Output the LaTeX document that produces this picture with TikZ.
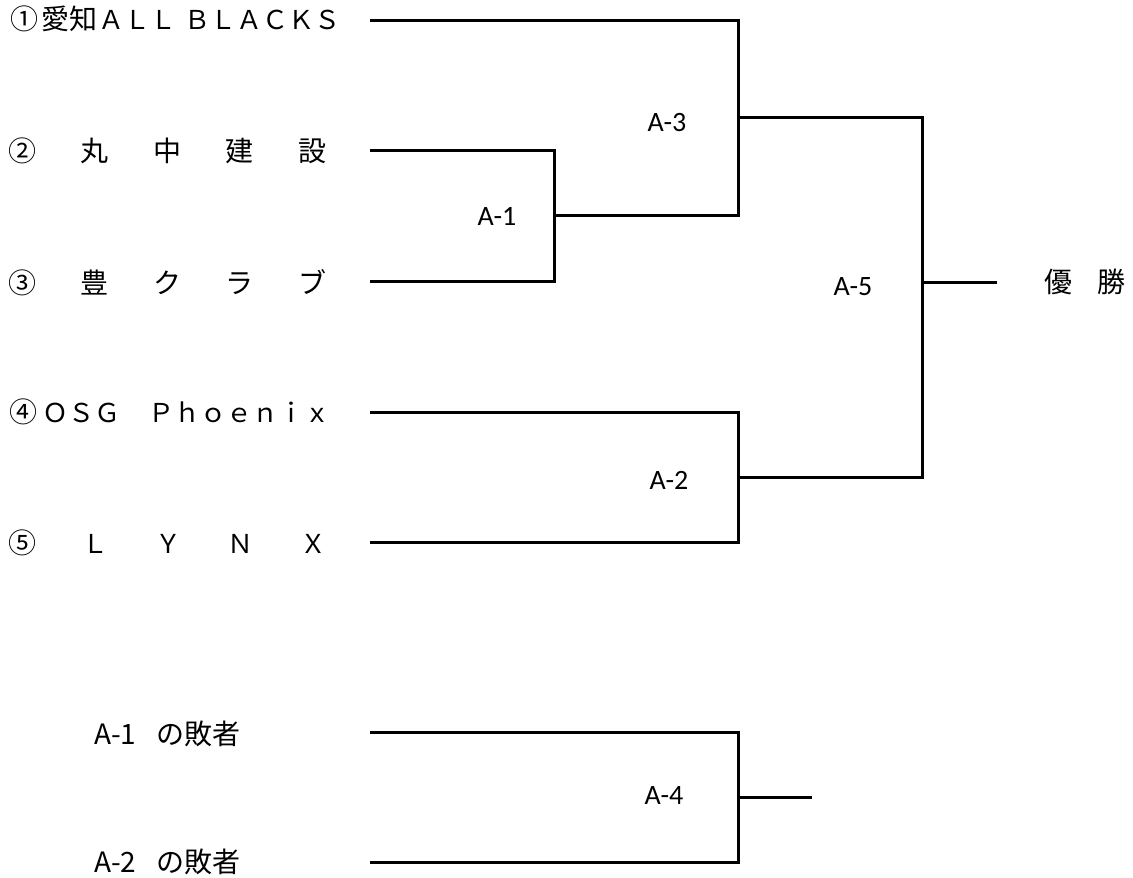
\documentclass[tikz,border=0pt]{standalone}
\usepackage{fontspec}
\setmainfont{Noto Sans CJK JP}
\newfontfamily\gamefont{Carlito}
\newcommand\latn[1]{{\fontsize{26}{30}\selectfont #1}}
\begin{document}
\begin{tikzpicture}[x=1pt,y=-1pt,
    team/.style={anchor=west,inner sep=0pt,font=\fontsize{28}{32}\selectfont},
    game/.style={inner sep=0pt,font=\gamefont\fontsize{28}{32}\selectfont},
    bracket/.style={line width=3pt}]
  \useasboundingbox (0,0) rectangle (1133,878);
  % entrants
  \node[team] (t1) at (10,19) {①\hspace{3pt}愛知\hspace{1pt}\latn{ＡＬＬ\hspace{8pt}ＢＬＡＣＫＳ}};
  \node[team] (t2) at (8,151) {\hbox to 318pt{②\hfill 丸\hfill 中\hfill 建\hfill 設}};
  \node[team] (t3) at (8,283) {\hbox to 318pt{③\hfill 豊\hfill ク\hfill ラ\hfill ブ}};
  \node[team] (t4) at (9,412) {④\hspace{5pt}\latn{ＯＳＧ\hspace{28pt}Ｐｈｏｅｎｉｘ}};
  \node[team] (t5) at (8,543) {\hbox to 318pt{⑤\hfill \latn{Ｌ}\hfill \latn{Ｙ}\hfill \latn{Ｎ}\hfill \latn{Ｘ}}};
  \node[team] (lose1) at (94,734) {A-1\hspace{20pt}の敗者};
  \node[team] (lose2) at (94,862) {A-2\hspace{20pt}の敗者};
  \node[team] (champ) at (1044,282) {優\hspace{25pt}勝};
  % line ends
  \coordinate (e1) at (370,20);
  \coordinate (e2) at (370,150);
  \coordinate (e3) at (370,281);
  \coordinate (e4) at (370,412);
  \coordinate (e5) at (370,542);
  \coordinate (l1) at (370,732);
  \coordinate (l2) at (370,862);
  \coordinate (j1) at (554,215);
  \coordinate (j2) at (738,477);
  \coordinate (j3) at (738,117);
  \coordinate (j4) at (738,797);
  \coordinate (j5) at (922,282);
  \coordinate (win) at (997,282);
  \coordinate (out4) at (812,797);
  % brackets
  \draw[bracket] (e2) -| (j1) |- (e3);
  \draw[bracket] (e1) -| (j3) |- (j1);
  \draw[bracket] (e4) -| (j2) |- (e5);
  \draw[bracket] (j3) -| (j5) |- (j2);
  \draw[bracket] (j5) -- (win);
  \draw[bracket] (l1) -| (j4) |- (l2);
  \draw[bracket] (j4) -- (out4);
  % games
  \node[game] (g1) at (497,216) {A-1};
  \node[game] (g3) at (667,123) {A-3};
  \node[game] (g2) at (669,480) {A-2};
  \node[game] (g5) at (853,287) {A-5};
  \node[game] (g4) at (664,796) {A-4};
\end{tikzpicture}
\end{document}
